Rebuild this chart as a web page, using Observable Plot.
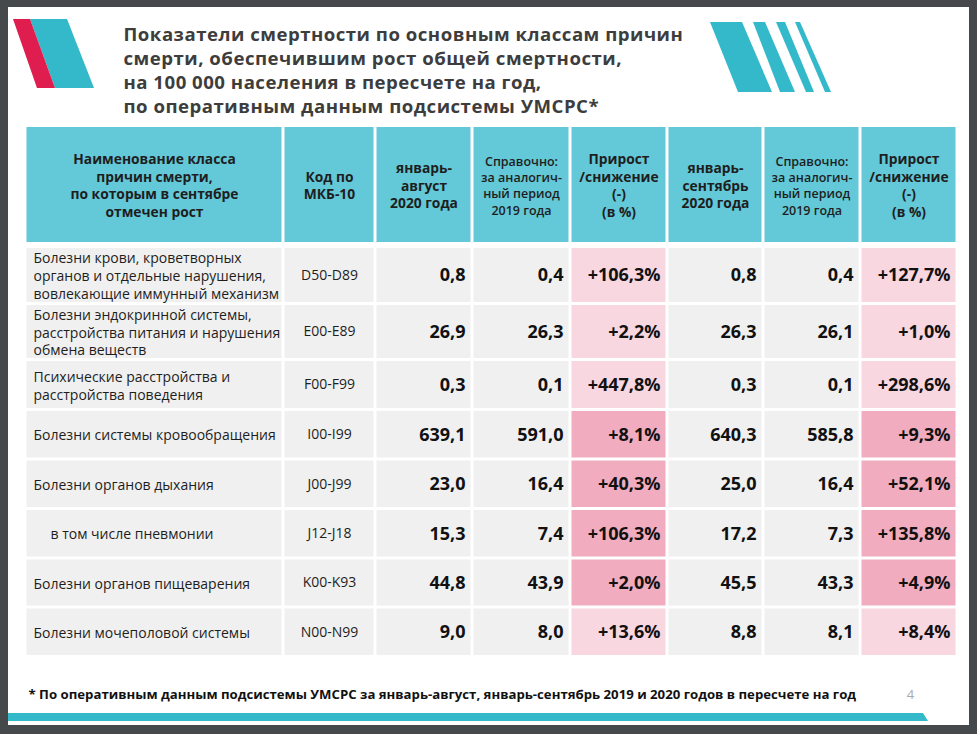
<!DOCTYPE html>
<html>
<head>
<meta charset="utf-8">
<script src="https://cdn.jsdelivr.net/npm/d3@7"></script>
<script src="https://cdn.jsdelivr.net/npm/@observablehq/plot@0.6"></script>
<style>
  html, body { margin: 0; padding: 0; background: #46494c; }
  #chart svg { display: block; }
</style>
</head>
<body>
<div id="chart"></div>
<script>
// ---------- DATA ----------
const titleText = "Показатели смертности по основным классам причин\nсмерти, обеспечившим рост общей смертности,\nна 100 000 населения в пересчете на год,\nпо оперативным данным подсистемы УМСРС*";
const footnoteText = "* По оперативным данным подсистемы УМСРС за январь-август, январь-сентябрь 2019 и 2020 годов в пересчете на год";
const pageNumber = "4";

const headerLabels = [
  "Наименование класса\nпричин смерти,\nпо которым в сентябре\nотмечен рост",
  "Код по\nМКБ-10",
  "январь-\nавгуст\n2020 года",
  "Справочно:\nза аналогич-\nный период\n2019 года",
  "Прирост\n/снижение\n(-)\n(в %)",
  "январь-\nсентябрь\n2020 года",
  "Справочно:\nза аналогич-\nный период\n2019 года",
  "Прирост\n/снижение\n(-)\n(в %)"
];
const headerKind = ["main", "main", "main", "small", "main", "main", "small", "main"];

const causeNames = [
  "Болезни крови, кроветворных\nорганов и отдельные нарушения,\nвовлекающие иммунный механизм",
  "Болезни эндокринной системы,\nрасстройства питания и нарушения\nобмена веществ",
  "Психические расстройства и\nрасстройства поведения",
  "Болезни системы кровообращения",
  "Болезни органов дыхания",
  "в том числе пневмонии",
  "Болезни органов пищеварения",
  "Болезни мочеполовой системы"
];
const isSubItem = [false, false, false, false, false, true, false, false];
const icdCodes = ["D50-D89", "E00-E89", "F00-F99", "I00-I99", "J00-J99", "J12-J18", "K00-K93", "N00-N99"];

const janAug2020 = [0.8, 26.9, 0.3, 639.1, 23.0, 15.3, 44.8, 9.0];
const janAug2019 = [0.4, 26.3, 0.1, 591.0, 16.4, 7.4, 43.9, 8.0];
const janAugChange = [106.3, 2.2, 447.8, 8.1, 40.3, 106.3, 2.0, 13.6];
const janSep2020 = [0.8, 26.3, 0.3, 640.3, 25.0, 17.2, 45.5, 8.8];
const janSep2019 = [0.4, 26.1, 0.1, 585.8, 16.4, 7.3, 43.3, 8.1];
const janSepChange = [127.7, 1.0, 298.6, 9.3, 52.1, 135.8, 4.9, 8.4];
const strongRow = [false, false, false, true, true, true, true, false];

// ---------- LAYOUT ----------
const W = 977, H = 734;
const L = {
  slide: {x1: 8, x2: 969, y1: 7, y2: 725},
  colEdges: [25, 283, 375, 472, 570, 667, 763, 860, 957],
  header: {y1: 127, y2: 242},
  rowEdges: [246.5, 303.5, 359.5, 409.5, 459, 508.5, 558, 607, 656.5],
  titleX: 123, titleY: 69,
  footY: 694, footX: 28, pageX: 910,
  bar: [{y: 713, x1: 8, x2: 923}, {y: 721, x1: 8, x2: 928}],
  logoRed: [{y: 19, x1: 13, x2: 30}, {y: 88, x1: 37, x2: 55}],
  logoTeal: [{y: 19, x1: 30, x2: 67}, {y: 88, x1: 55, x2: 94}],
  stripes: [
    [{y: 22, x1: 710, x2: 742}, {y: 92, x1: 738, x2: 772}],
    [{y: 22, x1: 753, x2: 765}, {y: 92, x1: 780, x2: 795}],
    [{y: 22, x1: 776, x2: 785}, {y: 92, x1: 806, x2: 814}],
    [{y: 22, x1: 795, x2: 800}, {y: 92, x1: 825, x2: 831}]
  ]
};

const colors = {
  frame: "#46494c", teal: "#33b9c9", red: "#df1d4e", text: "#1e1e1e", title: "#3d3d3d"
};

// ---------- DERIVED TABLES ----------
const fmt = v => v.toFixed(1).replace(".", ",");
const fmtChange = v => (v >= 0 ? "+" : "") + v.toFixed(1).replace(".", ",") + "%";
const rows = d3.range(causeNames.length);
const numericCols = [
  {col: 2, values: janAug2020, f: fmt},
  {col: 3, values: janAug2019, f: fmt},
  {col: 4, values: janAugChange, f: fmtChange},
  {col: 5, values: janSep2020, f: fmt},
  {col: 6, values: janSep2019, f: fmt},
  {col: 7, values: janSepChange, f: fmtChange}
];
const cells = [];
for (const r of rows) {
  for (let c = 0; c < 8; c++) {
    const change = c === 4 || c === 7;
    cells.push({r, c, kind: change ? (strongRow[r] ? "strong" : "light") : "plain"});
  }
}
const headerCells = headerLabels.map((label, c) => ({c, label, kind: headerKind[c]}));
const numberTexts = numericCols.flatMap(({col, values, f}) => values.map((v, r) => ({r, col, text: f(v)})));
const rowMid = r => (L.rowEdges[r] + L.rowEdges[r + 1]) / 2;
const headerMid = (L.header.y1 + L.header.y2) / 2;

const font = "'Open Sans', 'DejaVu Sans', sans-serif";

const chart = Plot.plot({
  width: W, height: H, margin: 0,
  style: {background: colors.frame, fontFamily: font},
  x: {domain: [0, W], range: [0, W], axis: null},
  y: {domain: [0, H], range: [0, H], axis: null},
  color: {
    type: "categorical",
    domain: ["header", "plain", "light", "strong"],
    range: ["#63c8d7", "#f0f0f0", "#f8d7e0", "#f1adbf"]
  },
  marks: [
    // slide
    Plot.rect([L.slide], {x1: "x1", x2: "x2", y1: "y1", y2: "y2", fill: "white"}),
    // logos
    Plot.areaX(L.logoTeal, {y: "y", x1: "x1", x2: "x2", fill: colors.teal, curve: "linear"}),
    Plot.areaX(L.logoRed, {y: "y", x1: "x1", x2: "x2", fill: colors.red, curve: "linear"}),
    ...L.stripes.map(s => Plot.areaX(s, {y: "y", x1: "x1", x2: "x2", fill: colors.teal})),
    Plot.areaX(L.bar, {y: "y", x1: "x1", x2: "x2", fill: colors.teal}),
    // title
    Plot.text([titleText], {
      x: L.titleX, y: L.titleY, text: d => d, textAnchor: "start", lineHeight: 1.28,
      fontSize: 18.6, fontWeight: 700, fill: colors.title, ariaLabel: () => "title-text"
    }),
    // header cells
    Plot.rect(headerCells, {
      x1: d => L.colEdges[d.c], x2: d => L.colEdges[d.c + 1],
      y1: L.header.y1, y2: L.header.y2, fill: () => "header", insetLeft: 1.5, insetRight: 1.5
    }),
    Plot.text(headerCells.filter(d => d.kind === "main"), {
      x: d => (L.colEdges[d.c] + L.colEdges[d.c + 1]) / 2, y: headerMid, text: "label",
      fontSize: 13.8, fontWeight: 700, lineHeight: 1.27, fill: colors.text
    }),
    Plot.text(headerCells.filter(d => d.kind === "small"), {
      x: d => (L.colEdges[d.c] + L.colEdges[d.c + 1]) / 2, y: headerMid, text: "label",
      fontSize: 12.5, fontWeight: 600, lineHeight: 1.3, fill: colors.text
    }),
    // body cells
    Plot.rect(cells, {
      x1: d => L.colEdges[d.c], x2: d => L.colEdges[d.c + 1],
      y1: d => L.rowEdges[d.r], y2: d => L.rowEdges[d.r + 1],
      fill: "kind", inset: 1.5
    }),
    Plot.text(rows, {
      x: r => L.colEdges[0] + (isSubItem[r] ? 25 : 8), y: rowMid, text: r => causeNames[r],
      textAnchor: "start", fontSize: 14, lineHeight: 1.27, fill: colors.text
    }),
    Plot.text(rows, {
      x: (L.colEdges[1] + L.colEdges[2]) / 2, y: rowMid, text: r => icdCodes[r],
      fontSize: 14, fill: colors.text
    }),
    Plot.text(numberTexts, {
      x: d => L.colEdges[d.col + 1] - 7, y: d => rowMid(d.r), text: "text",
      textAnchor: "end", fontSize: 18, fontWeight: 700, fill: "#111"
    }),
    // footnote & page number
    Plot.text([footnoteText], {
      x: L.footX, y: L.footY, text: d => d, textAnchor: "start",
      fontSize: 13.2, fontWeight: 700, fill: "#111"
    }),
    Plot.text([pageNumber], {
      x: L.pageX, y: L.footY, text: d => d, fontSize: 13, fill: "#aaaaaa"
    })
  ]
});
d3.select(chart).selectAll('[aria-label="title-text"]').attr("letter-spacing", "0.5");
document.getElementById("chart").appendChild(chart);
</script>
</body>
</html>
